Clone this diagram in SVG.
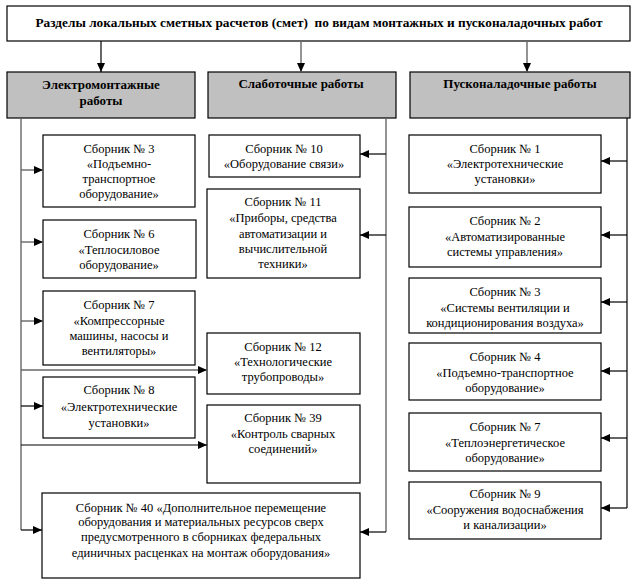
<svg xmlns="http://www.w3.org/2000/svg" width="636" height="584" viewBox="0 0 636 584">
<style>
text{font-family:"Liberation Serif","DejaVu Serif",serif;font-size:12.5px;fill:#000;text-anchor:middle}
.b{font-weight:bold;font-size:13px}
.t{font-weight:bold;font-size:13.3px;white-space:pre}
.box{fill:#fff;stroke:#000;stroke-width:1.2}
.hdr{fill:#c0c0c0;stroke:#000;stroke-width:1.2}
.ln{fill:none;stroke:#000;stroke-width:1.2}
.lg{fill:none;stroke:#666;stroke-width:1.4}
</style>
<defs>
<marker id="ah" markerUnits="userSpaceOnUse" markerWidth="10" markerHeight="8" refX="9" refY="4" orient="auto">
<path d="M0,0 L9,4 L0,8 Z" fill="#000"/>
</marker>
</defs>
<rect width="636" height="584" fill="#fff"/>
<g id="top"><rect class="box" x="7" y="6" width="623" height="35"/><text class="t" x="319" y="27" xml:space="preserve">Разделы локальных сметных расчетов (смет)  по видам монтажных и пусконаладочных работ</text></g>
<g id="h-electro"><rect class="hdr" x="7" y="72" width="188" height="46"/><text class="b" x="101" y="89">Электромонтажные</text><text class="b" x="101" y="105">работы</text></g>
<g id="h-weak"><rect class="hdr" x="208" y="72" width="188" height="46"/><text class="b" x="301" y="88">Слаботочные работы</text></g>
<g id="h-pusk"><rect class="hdr" x="410" y="72" width="220" height="46"/><text class="b" x="520" y="88">Пусконаладочные работы</text></g>

<g id="e3"><rect class="box" x="43" y="135" width="152" height="72"/><text x="119" y="153">Сборник № 3</text><text x="119" y="168">«Подъемно-</text><text x="119" y="183">транспортное</text><text x="119" y="198">оборудование»</text></g>
<g id="e6"><rect class="box" x="43" y="220" width="153" height="58"/><text x="119" y="238">Сборник № 6</text><text x="119" y="254">«Теплосиловое</text><text x="119" y="269">оборудование»</text></g>
<g id="e7"><rect class="box" x="43" y="291" width="152" height="74"/><text x="119" y="309">Сборник № 7</text><text x="119" y="325">«Компрессорные</text><text x="119" y="340">машины, насосы и</text><text x="119" y="355">вентиляторы»</text></g>
<g id="e8"><rect class="box" x="43" y="377" width="152" height="61"/><text x="119" y="394">Сборник № 8</text><text x="119" y="411">«Электротехнические</text><text x="119" y="427">установки»</text></g>
<g id="w10"><rect class="box" x="209" y="135" width="151" height="42"/><text x="284" y="153">Сборник № 10</text><text x="284" y="168">«Оборудование связи»</text></g>
<g id="w11"><rect class="box" x="207" y="189" width="153" height="89"/><text x="283" y="206">Сборник № 11</text><text x="283" y="222">«Приборы, средства</text><text x="283" y="238">автоматизации и</text><text x="283" y="253">вычислительной</text><text x="283" y="268">техники»</text></g>
<g id="e12"><rect class="box" x="207" y="333" width="153" height="61"/><text x="283" y="351">Сборник № 12</text><text x="283" y="366">«Технологические</text><text x="283" y="381">трубопроводы»</text></g>
<g id="e39"><rect class="box" x="207" y="405" width="153" height="78"/><text x="283" y="422">Сборник № 39</text><text x="283" y="438">«Контроль сварных</text><text x="283" y="453">соединений»</text></g>
<g id="c40"><rect class="box" x="42" y="493" width="318" height="85"/><text x="201" y="512">Сборник № 40 «Дополнительное перемещение</text><text x="201" y="526">оборудования и материальных ресурсов сверх</text><text x="201" y="541">предусмотренного в сборниках федеральных</text><text x="201" y="557">единичных расценках на монтаж оборудования»</text></g>
<g id="p1"><rect class="box" x="409" y="135" width="192" height="58"/><text x="505" y="153">Сборник № 1</text><text x="505" y="168">«Электротехнические</text><text x="505" y="183">установки»</text></g>
<g id="p2"><rect class="box" x="409" y="207" width="192" height="60"/><text x="505" y="225">Сборник № 2</text><text x="505" y="241">«Автоматизированные</text><text x="505" y="256">системы управления»</text></g>
<g id="p3"><rect class="box" x="409" y="278" width="192" height="55"/><text x="505" y="296">Сборник № 3</text><text x="505" y="312">«Системы вентиляции и</text><text x="505" y="327">кондиционирования воздуха»</text></g>
<g id="p4"><rect class="box" x="409" y="343" width="192" height="57"/><text x="505" y="361">Сборник № 4</text><text x="505" y="377">«Подъемно-транспортное</text><text x="505" y="392">оборудование»</text></g>
<g id="p7"><rect class="box" x="409" y="413" width="192" height="58"/><text x="505" y="431">Сборник № 7</text><text x="505" y="447">«Теплоэнергетическое</text><text x="505" y="462">оборудование»</text></g>
<g id="p9"><rect class="box" x="409" y="482" width="192" height="57"/><text x="505" y="498">Сборник № 9</text><text x="505" y="514">«Сооружения водоснабжения</text><text x="505" y="529">и канализации»</text></g>

<g id="connectors">
<line class="ln" x1="101" y1="41" x2="101" y2="72" marker-end="url(#ah)"/>
<line class="lg" x1="301" y1="41" x2="301" y2="72" marker-end="url(#ah)"/>
<line class="lg" x1="527" y1="41" x2="527" y2="72" marker-end="url(#ah)"/>
<path class="lg" d="M21,118 V530"/>
<line class="lg" x1="21" y1="170" x2="43" y2="170" marker-end="url(#ah)"/>
<line class="lg" x1="21" y1="242" x2="43" y2="242" marker-end="url(#ah)"/>
<line class="lg" x1="21" y1="321" x2="43" y2="321" marker-end="url(#ah)"/>
<line class="lg" x1="21" y1="370" x2="207" y2="370" marker-end="url(#ah)"/>
<line class="ln" x1="21" y1="406" x2="43" y2="406" marker-end="url(#ah)"/>
<line class="ln" x1="21" y1="445" x2="207" y2="445" marker-end="url(#ah)"/>
<line class="ln" x1="21" y1="530" x2="42" y2="530" marker-end="url(#ah)"/>
<path class="lg" d="M386,118 V532"/>
<line class="ln" x1="386" y1="154" x2="360" y2="154" marker-end="url(#ah)"/>
<line class="ln" x1="386" y1="235" x2="360" y2="235" marker-end="url(#ah)"/>
<line class="ln" x1="386" y1="532" x2="360" y2="532" marker-end="url(#ah)"/>
<path class="ln" d="M627,118 V508"/>
<line class="ln" x1="627" y1="161" x2="601" y2="161" marker-end="url(#ah)"/>
<line class="ln" x1="627" y1="235" x2="601" y2="235" marker-end="url(#ah)"/>
<line class="ln" x1="627" y1="302" x2="601" y2="302" marker-end="url(#ah)"/>
<line class="ln" x1="627" y1="371" x2="601" y2="371" marker-end="url(#ah)"/>
<line class="ln" x1="627" y1="438" x2="601" y2="438" marker-end="url(#ah)"/>
<line class="ln" x1="627" y1="508" x2="601" y2="508" marker-end="url(#ah)"/>
</g>
</svg>
